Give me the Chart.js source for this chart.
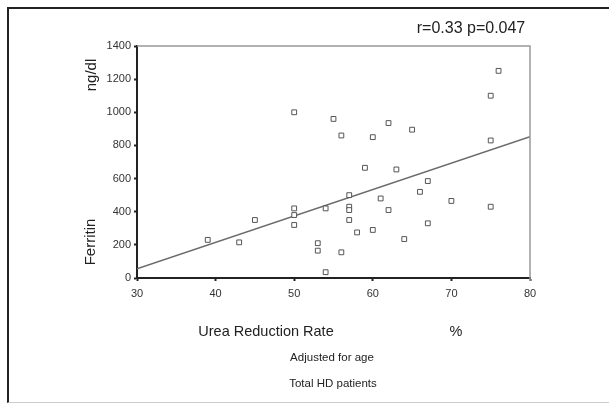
<!DOCTYPE html>
<html>
<head>
<meta charset="utf-8">
<script src="https://cdn.jsdelivr.net/npm/chart.js@4"></script>
<style>
  html,body{margin:0;padding:0;background:#fff;}
  #wrap{position:relative;width:609px;height:403px;overflow:hidden;font-family:"Liberation Sans",Arial,sans-serif;color:#222;}
  #frame{position:absolute;left:7px;top:7px;width:610px;height:393px;border-left:2px solid #222;border-top:2px solid #222;border-bottom:1px solid #ccc;box-sizing:content-box;}
  canvas{position:absolute;left:0;top:0;}
  .t{position:absolute;line-height:1;white-space:nowrap;transform:translate(-50%,-50%);}
  .rot{transform:translate(-50%,-50%) rotate(-90deg);}
</style>
</head>
<body>
<div id="wrap">
  <div id="frame"></div>
  <canvas id="c" width="609" height="403"></canvas>
  <div class="t" style="left:471px;top:28px;font-size:16px;">r=0.33 p=0.047</div>
  <div class="t rot" style="left:90px;top:75px;font-size:15px;">ng/dl</div>
  <div class="t rot" style="left:89px;top:242px;font-size:15px;">Ferritin</div>
  <div class="t" style="left:266px;top:331px;font-size:14.5px;">Urea Reduction Rate</div>
  <div class="t" style="left:456px;top:331px;font-size:14.5px;">%</div>
  <div class="t" style="left:332px;top:358px;font-size:11.5px;">Adjusted for age</div>
  <div class="t" style="left:333px;top:384px;font-size:11.5px;">Total HD patients</div>
</div>
<script>
// urea reduction rate (%) and ferritin (ng/dl), one per patient
const urr = [39,43,45,50,50,50,50,53,53,54,54,55,56,56,57,57,57,57,58,59,60,60,61,62,62,63,64,65,66,67,67,70,75,75,75,76];
const ferritin = [230,215,350,1000,420,380,320,210,165,420,35,960,860,155,500,430,410,350,275,665,850,290,480,935,410,655,235,895,520,585,330,465,1100,830,430,1250];

// fitted line ends
const fitX = [30,80];
const fitY = [55,852];

const xTicks = [30,40,50,60,70,80];
const yTicks = [0,200,400,600,800,1000,1200,1400];

const tickFont = {family:'"Liberation Sans", Arial, sans-serif', size:11};

// gray top/right edge of the plot box
const boxEdge = {
  id:"boxEdge",
  afterDraw(chart){
    const a = chart.chartArea, ctx = chart.ctx;
    ctx.save();
    ctx.strokeStyle = "#999";
    ctx.lineWidth = 1.5;
    ctx.beginPath();
    ctx.moveTo(a.left, a.top);
    ctx.lineTo(a.right, a.top);
    ctx.lineTo(a.right, a.bottom + 3);
    ctx.stroke();
    ctx.restore();
  }
};

new Chart(document.getElementById("c"), {
  type:"scatter",
  data:{
    datasets:[
      {
        data: urr.map((x,i)=>({x:x, y:ferritin[i]})),
        pointStyle:"rect",
        pointRadius:3.4,
        pointBorderWidth:1,
        pointBorderColor:"#555",
        pointBackgroundColor:"#fff"
      },
      {
        type:"line",
        data: fitX.map((x,i)=>({x:x, y:fitY[i]})),
        borderColor:"#6a6a6a",
        borderWidth:1.5,
        pointRadius:0,
        fill:false
      }
    ]
  },
  options:{
    responsive:false,
    animation:false,
    layout:{padding:{left:0, top:46, right:79, bottom:0}},
    plugins:{legend:{display:false}, tooltip:{enabled:false}},
    scales:{
      x:{
        type:"linear", min:30, max:80,
        afterBuildTicks: s => { s.ticks = xTicks.map(v=>({value:v})); },
        afterFit: s => { s.height = 125; },
        grid:{drawOnChartArea:false, tickLength:3, tickWidth:2, tickColor:"#222"},
        border:{color:"#222", width:2},
        ticks:{font:tickFont, color:"#333", padding:6, maxRotation:0, callback: v => String(v)}
      },
      y:{
        type:"linear", min:0, max:1400,
        afterBuildTicks: s => { s.ticks = yTicks.map(v=>({value:v})); },
        afterFit: s => { s.width = 137; },
        grid:{drawOnChartArea:false, tickLength:3, tickWidth:2, tickColor:"#222"},
        border:{color:"#222", width:2},
        ticks:{font:tickFont, color:"#333", padding:3, callback: v => String(v)}
      }
    }
  },
  plugins:[boxEdge]
});
</script>
</body>
</html>
